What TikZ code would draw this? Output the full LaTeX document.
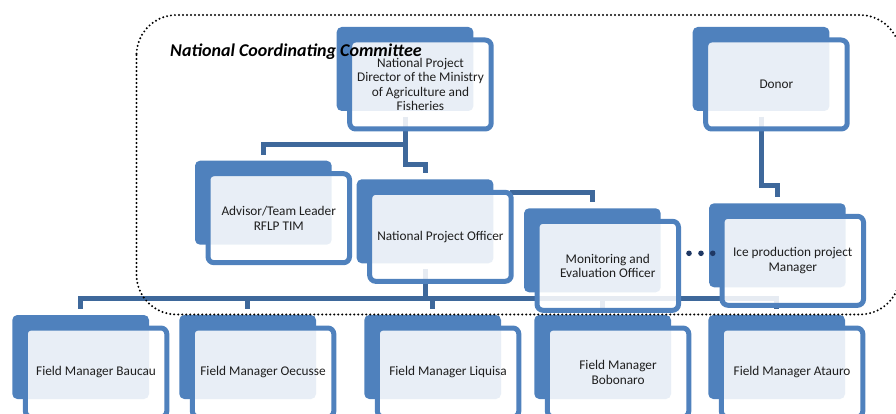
\documentclass[tikz,border=0pt]{standalone}
\usepackage{fontspec}
\setmainfont{Carlito}
\definecolor{accent}{RGB}{79,129,189}
\definecolor{connblue}{RGB}{62,104,155}
\definecolor{dotnavy}{RGB}{31,56,100}
\definecolor{textgray}{RGB}{30,30,30}
\pgfdeclarelayer{bg}
\pgfdeclarelayer{fg}
\pgfsetlayers{bg,main,fg}

\tikzset{
  backbox/.style={fill=accent, rounded corners=5pt, minimum width=136.7pt,
    minimum height=84pt, inner sep=0pt, outer sep=0pt, anchor=north west},
  frontbox/.style={draw=accent, line width=5pt, fill=white, fill opacity=0.87,
    text opacity=1, rounded corners=6pt, minimum width=141.5pt, minimum height=89pt,
    anchor=north west, align=center, font=\fontsize{13.3}{14.6}\selectfont,
    text=textgray, inner sep=0pt},
  conn/.style={draw=connblue, line width=5pt, shorten <=6pt, shorten >=6pt},
  boundary/.style={line width=2.2pt, dash pattern=on 0pt off 4pt, line cap=round},
  title/.style={anchor=base west, inner sep=0pt,
    font=\fontsize{18}{20}\selectfont\bfseries\itshape},
}

% one organisation unit: filled back card plus translucent outlined front card
\newcommand{\orgunit}[4]{%
  \node[backbox] (#1) at (#2,#3) {};
  \node[frontbox] (#1f) at ([xshift=10.5pt,yshift=-10.5pt]#1.north west) {#4};
}

\begin{document}
\begin{tikzpicture}[x=1pt,y=-1pt]
\useasboundingbox (0,0) rectangle (896,414);

% top level
\orgunit{npd}{336.7}{27}{National Project\\Director of the Ministry\\of Agriculture and\\Fisheries}
\orgunit{donor}{692.7}{27}{Donor}

% second level
\orgunit{adv}{195}{160.7}{Advisor/Team Leader\\RFLP TIM}
\orgunit{npo}{356.7}{179.3}{National Project Officer}
\orgunit{me}{524}{208.3}{Monitoring and\\Evaluation Officer}
\orgunit{ice}{709}{203.3}{Ice production project\\Manager}

% field managers
\orgunit{baucau}{12.3}{315}{Field Manager Baucau}
\orgunit{oecusse}{179.3}{315}{Field Manager Oecusse}
\orgunit{liquisa}{364.3}{315}{Field Manager Liquisa}
\orgunit{bobonaro}{534.3}{315}{Field Manager\\Bobonaro}
\orgunit{atauro}{708.3}{315}{Field Manager Atauro}

% connectors behind the cards
\begin{pgfonlayer}{bg}
\draw[conn] (npd.south) -- ++(0,33.5) -| (adv.north);
\draw[conn] (npd.south) -- ++(0,54) -| (npo.north);
\draw[conn, shorten <=0pt] ([xshift=-4pt,yshift=-2.5pt]npof.north east) -| (me.north);
\draw[conn] (donor.south) -- ++(0,75) -| (ice.north);
\foreach \fm in {baucau,oecusse,liquisa,bobonaro,atauro}
  \draw[conn] (npo.south) -- ++(0,35) -| (\fm.north);
\end{pgfonlayer}

% committee boundary, ellipsis and heading
\begin{pgfonlayer}{fg}
\draw[boundary, rounded corners=40pt] (136.5,15) rectangle (900,314.5);
\foreach \dx in {689,701,712.7}
  \fill[dotnavy] (\dx,253.3) circle[radius=2.8];
\node[title] (committee) at (170,56.2) {National Coordinating Committee};
\end{pgfonlayer}
\end{tikzpicture}
\end{document}
